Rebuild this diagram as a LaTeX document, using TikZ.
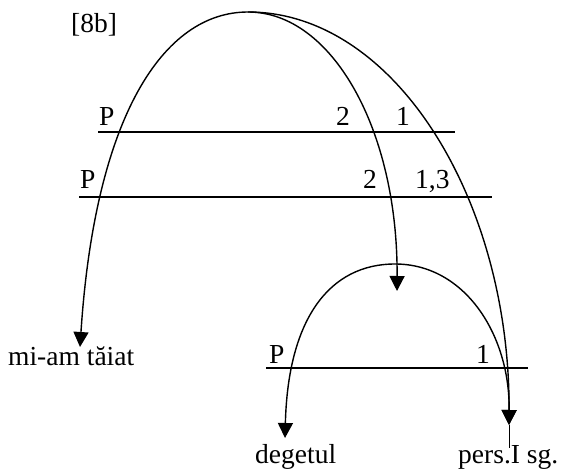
\documentclass[tikz,border=0pt]{standalone}
\usepackage{fontspec}
\setmainfont{Liberation Serif}
\usetikzlibrary{arrows.meta}
\begin{document}
\begin{tikzpicture}[x=1pt,y=-1pt,
  lbl/.style={inner sep=0pt,anchor=base west,font=\fontsize{27.5}{31}\selectfont},
  hline/.style={line width=1.3pt},
  arcline/.style={line width=1.4pt},
  tip/.style={-{Triangle[length=15pt,width=15pt]}},
  bothtip/.style={{Triangle[length=15pt,width=15pt]}-{Triangle[length=15pt,width=15pt]}}]
\useasboundingbox (0,0) rectangle (563,471);
% labels
\node[lbl] (tag) at (71,32) {[8b]};
\node[lbl] (pa) at (99,125) {P};
\node[lbl] (twoa) at (336,125) {2};
\node[lbl] (onea) at (396,125) {1};
\node[lbl] (pb) at (80,188) {P};
\node[lbl] (twob) at (363,188) {2};
\node[lbl] (oneb) at (415,188) {1,3};
\node[lbl] (pc) at (269,363) {P};
\node[lbl] (onec) at (476,363) {1};
\node[lbl] (verb) at (8,365) {mi-am tăiat};
\node[lbl] (noun) at (255,463) {degetul};
\node[lbl] (pers) at (458,463) {pers.I sg.};
% horizontal lines
\coordinate (la1) at (98,132); \coordinate (la2) at (455,132);
\coordinate (lb1) at (79,197); \coordinate (lb2) at (492,197);
\coordinate (lc1) at (266,368); \coordinate (lc2) at (528,368);
\draw[hline] (la1) -- (la2);
\draw[hline] (lb1) -- (lb2);
\draw[hline] (lc1) -- (lc2);
% key points
\coordinate (apex) at (248,12);
\coordinate (apexs) at (395,264);
\coordinate (tipL) at (80,347);
\coordinate (tipM) at (397,291);
\coordinate (tipR) at (509,425);
\coordinate (tipS) at (285,438);
\coordinate (ibar) at (509,448);
% big arch with both ends
\draw[arcline,bothtip] (tipL) .. controls (95,117) and (163,12) .. (apex)
  .. controls (332,12) and (398,130) .. (tipM);
% outer arc
\draw[arcline,tip] (apex) .. controls (395,12) and (510,200) .. (tipR);
% small arch
\draw[arcline,bothtip] (tipS) .. controls (288,318) and (330,264) .. (apexs)
  .. controls (465,264) and (510,335) .. (tipR);
% stem to the I
\draw[line width=1pt] (tipR) -- (ibar);
\end{tikzpicture}
\end{document}
